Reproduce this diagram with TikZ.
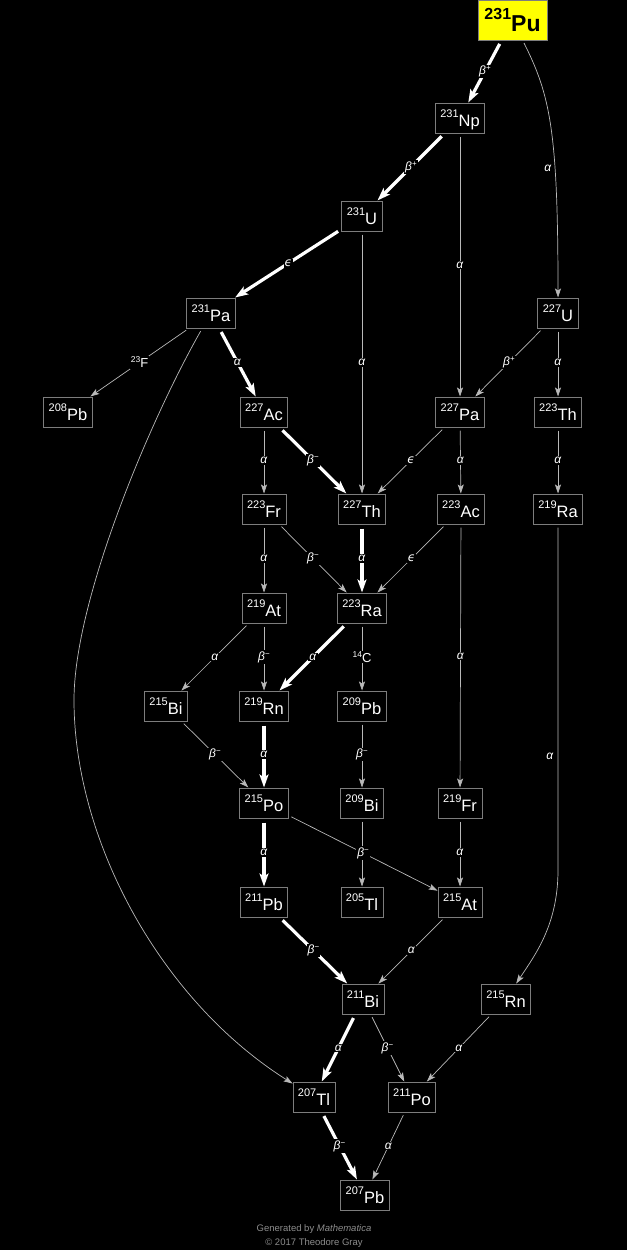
\documentclass[tikz,border=0pt]{standalone}
\usepackage{fontspec}
\setmainfont{Liberation Sans}
\newfontfamily\epsfont{DejaVu Sans}
\usetikzlibrary{arrows.meta}
\definecolor{puyellow}{RGB}{255,255,0}
\definecolor{boxgray}{RGB}{125,125,125}
\definecolor{edgegray}{RGB}{185,185,185}
\definecolor{footgray}{RGB}{140,140,140}

% nuclide text: mass number raised before the symbol
\newcommand{\nuc}[2]{\raisebox{9.3pt}{\fontsize{11}{11}\selectfont #1}{\fontsize{16.5}{16.5}\selectfont #2}}
\newcommand{\nucbig}[2]{\raisebox{11.7pt}{\fontsize{16}{16}\selectfont\bfseries #1}{\fontsize{23}{23}\selectfont\bfseries #2}}
\newcommand{\emit}[2]{\raisebox{5pt}{\fontsize{8.5}{8.5}\selectfont #1}{\fontsize{13}{13}\selectfont #2}}
% decay labels
\newcommand{\al}{\textit{α}}
\newcommand{\bm}{\textit{β}\raisebox{4pt}{\fontsize{8}{8}\selectfont −}}
\newcommand{\bp}{\textit{β}\raisebox{4pt}{\fontsize{8}{8}\selectfont +}}
\newcommand{\ec}{{\epsfont\itshape ϵ}}

\begin{document}
\begin{tikzpicture}[x=1pt, y=-1pt,
    iso/.style={draw=boxgray, fill=black, text=white, line width=0.8pt, inner xsep=5pt, inner ysep=6.25pt, text height=17.7pt, text depth=0pt},
    parent/.style={draw=boxgray, fill=puyellow, text=black, line width=0.8pt, minimum width=69pt, minimum height=40pt, text height=23.3pt, text depth=0pt},
    thinedge/.style={draw=edgegray, line width=0.7pt, -{Stealth[length=9pt,width=6pt,inset=2pt]}, shorten <=3pt},
    thickedge/.style={draw=white, line width=3.2pt, -{Stealth[length=13pt,width=9pt,inset=3pt]}, shorten <=4pt},
    lbl/.style={fill=black, text=white, inner sep=1pt, font=\fontsize{12}{12}\selectfont},
    foot/.style={text=footgray, inner sep=0pt, font=\fontsize{9.5}{9.5}\selectfont}]

    % Background
    \fill[black] (0,0) rectangle (627,1250);
    \useasboundingbox (0,0) rectangle (627,1250);

    % Parent
    \node[parent] (pu231) at (512.5,20) {\nucbig{231}{Pu}};

    % Row 1 and 2
    \node[iso] (np231) at (460,118) {\nuc{231}{Np}};
    \node[iso] (u231) at (362,216) {\nuc{231}{U}};

    % Row 3
    \node[iso] (pa231) at (211,313) {\nuc{231}{Pa}};
    \node[iso] (u227) at (558,313) {\nuc{227}{U}};

    % Row 4
    \node[iso] (pb208) at (68,412) {\nuc{208}{Pb}};
    \node[iso] (ac227) at (264,412) {\nuc{227}{Ac}};
    \node[iso] (pa227) at (460,412) {\nuc{227}{Pa}};
    \node[iso] (th223) at (558,412) {\nuc{223}{Th}};

    % Row 5
    \node[iso] (fr223) at (264,509) {\nuc{223}{Fr}};
    \node[iso] (th227) at (362,509) {\nuc{227}{Th}};
    \node[iso] (ac223) at (461,509) {\nuc{223}{Ac}};
    \node[iso] (ra219) at (558,509) {\nuc{219}{Ra}};

    % Row 6
    \node[iso] (at219) at (264,608) {\nuc{219}{At}};
    \node[iso] (ra223) at (362,608) {\nuc{223}{Ra}};

    % Row 7
    \node[iso] (bi215) at (166,706) {\nuc{215}{Bi}};
    \node[iso] (rn219) at (264,706) {\nuc{219}{Rn}};
    \node[iso] (pb209) at (362,706) {\nuc{209}{Pb}};

    % Row 8
    \node[iso] (po215) at (264,803) {\nuc{215}{Po}};
    \node[iso] (bi209) at (362,803) {\nuc{209}{Bi}};
    \node[iso] (fr219) at (460,803) {\nuc{219}{Fr}};

    % Row 9
    \node[iso] (pb211) at (264,902) {\nuc{211}{Pb}};
    \node[iso] (tl205) at (362,902) {\nuc{205}{Tl}};
    \node[iso] (at215) at (460,902) {\nuc{215}{At}};

    % Row 10
    \node[iso] (bi211) at (363,999) {\nuc{211}{Bi}};
    \node[iso] (rn215) at (506,999) {\nuc{215}{Rn}};

    % Row 11 and end
    \node[iso] (tl207) at (314,1097) {\nuc{207}{Tl}};
    \node[iso] (po211) at (412,1097) {\nuc{211}{Po}};
    \node[iso] (pb207) at (365,1195) {\nuc{207}{Pb}};

    % Main chain
    \draw[thickedge] (pu231) -- node[lbl] {\bp} (np231);
    \draw[thickedge] (np231) -- node[lbl] {\bp} (u231);
    \draw[thickedge] (u231) -- node[lbl] {\ec} (pa231);
    \draw[thickedge] (pa231) -- node[lbl] {\al} (ac227);
    \draw[thickedge] (ac227) -- node[lbl] {\bm} (th227);
    \draw[thickedge] (th227) -- node[lbl] {\al} (ra223);
    \draw[thickedge] (ra223) -- node[lbl] {\al} (rn219);
    \draw[thickedge] (rn219) -- node[lbl] {\al} (po215);
    \draw[thickedge] (po215) -- node[lbl] {\al} (pb211);
    \draw[thickedge] (pb211) -- node[lbl] {\bm} (bi211);
    \draw[thickedge] (bi211) -- node[lbl] {\al} (tl207);
    \draw[thickedge] (tl207) -- node[lbl] {\bm} (pb207);

    % Side branches
    \draw[thinedge] (pu231) .. controls (550,95) and (558,130) .. (u227);
    \node[lbl] (lblpu) at (548,168) {\al};
    \draw[thinedge] (np231) -- node[lbl] {\al} (pa227);
    \draw[thinedge] (u231) -- node[lbl] {\al} (th227);
    \draw[thinedge] (pa231) -- node[lbl] {\emit{23}{F}} (pb208);
    \draw[thinedge] (pa231) .. controls (150,420) and (74,600) .. (74,700) .. controls (74,840) and (160,1000) .. (tl207);
    \draw[thinedge] (u227) -- node[lbl] {\bp} (pa227);
    \draw[thinedge] (u227) -- node[lbl] {\al} (th223);
    \draw[thinedge] (ac227) -- node[lbl] {\al} (fr223);
    \draw[thinedge] (pa227) -- node[lbl] {\ec} (th227);
    \draw[thinedge] (pa227) -- node[lbl] {\al} (ac223);
    \draw[thinedge] (th223) -- node[lbl] {\al} (ra219);
    \draw[thinedge] (fr223) -- node[lbl] {\al} (at219);
    \draw[thinedge] (fr223) -- node[lbl] {\bm} (ra223);
    \draw[thinedge] (ac223) -- node[lbl] {\ec} (ra223);
    \draw[thinedge] (ac223) -- node[lbl] {\al} (fr219);
    \draw[thinedge] (ra219) -- (558,870) .. controls (558,925) and (535,955) .. (rn215);
    \node[lbl] (lblra) at (550,756) {\al};
    \draw[thinedge] (at219) -- node[lbl] {\al} (bi215);
    \draw[thinedge] (at219) -- node[lbl] {\bm} (rn219);
    \draw[thinedge] (ra223) -- node[lbl] {\emit{14}{C}} (pb209);
    \draw[thinedge] (bi215) -- node[lbl] {\bm} (po215);
    \draw[thinedge] (pb209) -- node[lbl] {\bm} (bi209);
    \draw[thinedge] (bi209) -- (tl205);
    \draw[thinedge] (po215) -- node[lbl] {\bm} (at215);
    \draw[thinedge] (fr219) -- node[lbl] {\al} (at215);
    \draw[thinedge] (at215) -- node[lbl] {\al} (bi211);
    \draw[thinedge] (bi211) -- node[lbl] {\bm} (po211);
    \draw[thinedge] (rn215) -- node[lbl] {\al} (po211);
    \draw[thinedge] (po211) -- node[lbl] {\al} (pb207);

    % Footer
    \node[foot] (gen) at (314,1229) {Generated by \textit{Mathematica}};
    \node[foot] (copy) at (314,1243) {© 2017 Theodore Gray};
\end{tikzpicture}
\end{document}
